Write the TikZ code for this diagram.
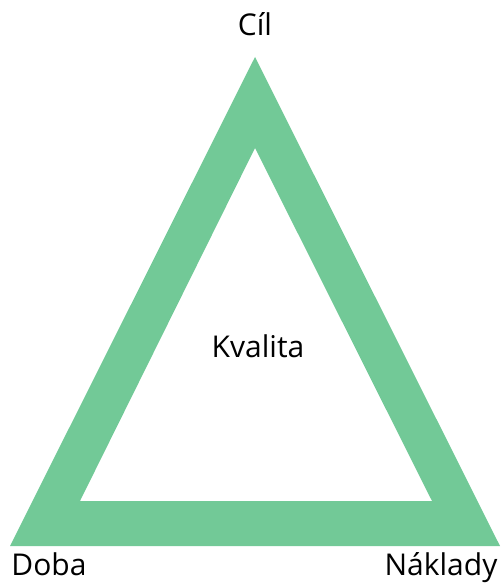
\documentclass[tikz,border=0pt]{standalone}
\usepackage{fontspec}
\setmainfont{Open Sans}
\definecolor{tgreen}{HTML}{72C997}
\begin{document}
\begin{tikzpicture}[x=1pt,y=-1pt,
  lbl/.style={font=\fontsize{30}{35}\selectfont, text=black, inner sep=0pt, anchor=base}]
\useasboundingbox (0,0) rectangle (502,583);
\fill[tgreen, even odd rule] (255,57) -- (500,546) -- (10,546) -- cycle
  (255,148) -- (432,501) -- (80,501) -- cycle;
\node[lbl] (cil) at (255,36) {Cíl};
\node[lbl] (kvalita) at (258,357) {Kvalita};
\node[lbl] (doba) at (49,575) {Doba};
\node[lbl] (naklady) at (441,575) {Náklady};
\end{tikzpicture}
\end{document}
